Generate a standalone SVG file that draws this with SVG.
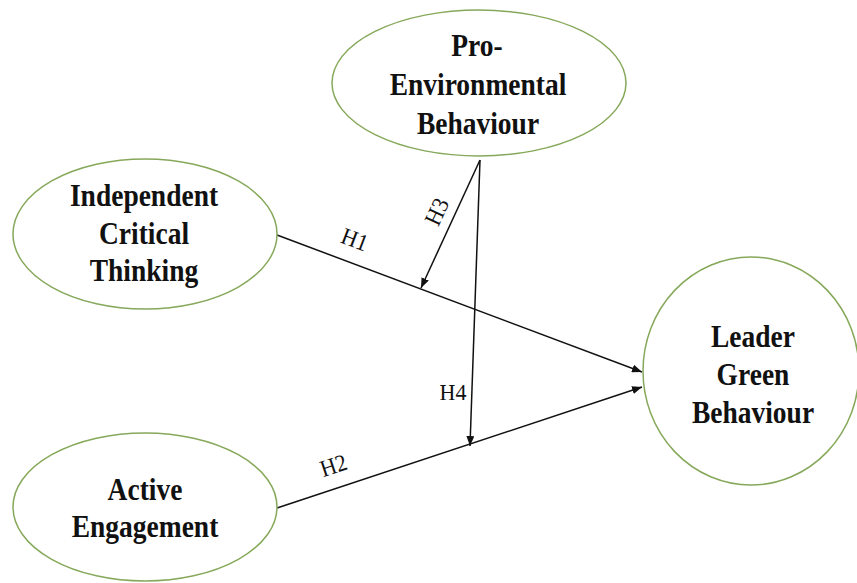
<svg xmlns="http://www.w3.org/2000/svg" width="857" height="583" viewBox="0 0 857 583">
<style>
.node ellipse{fill:#fff;stroke:#86a85a;stroke-width:1.5}
.edge line{stroke:#111;stroke-width:1.5}
</style>
<defs>
<marker id="ah" viewBox="0 0 10 8" refX="10" refY="4" markerWidth="10" markerHeight="8" markerUnits="userSpaceOnUse" orient="auto">
<path d="M0,0 L10,4 L0,8 Z" fill="#111"/>
</marker>
</defs>
<rect width="857" height="583" fill="#fff"/>
<g id="connectors" class="edge">
<line x1="277" y1="235" x2="642" y2="372" marker-end="url(#ah)"/>
<line x1="277" y1="508" x2="642" y2="387" marker-end="url(#ah)"/>
<line x1="480" y1="160" x2="421" y2="288" marker-end="url(#ah)"/>
<line x1="480" y1="160" x2="470" y2="446" marker-end="url(#ah)"/>
<g font-family="Liberation Serif" font-size="22" fill="#111" text-anchor="middle">
<text transform="translate(352,247) rotate(20.6) scale(1,1.08)">H1</text>
<text transform="translate(336,473) rotate(-18.3) scale(1,1.08)">H2</text>
<text transform="translate(444,215) rotate(-65) scale(1,1.08)">H3</text>
<text transform="translate(453,400) scale(1,1.08)">H4</text>
</g>
</g>
<g id="pro-environmental" class="node">
<ellipse cx="479" cy="83" rx="147" ry="73"/>
<g font-family="Liberation Serif" font-weight="bold" font-size="27.5" fill="#111" text-anchor="middle">
<text transform="translate(477,56) scale(1,1.12)">Pro-</text>
<text transform="translate(478,95) scale(1,1.12)">Environmental</text>
<text transform="translate(478,134) scale(1,1.12)">Behaviour</text>
</g>
</g>
<g id="independent-critical-thinking" class="node">
<ellipse cx="145" cy="234" rx="132" ry="75"/>
<g font-family="Liberation Serif" font-weight="bold" font-size="27.5" fill="#111" text-anchor="middle">
<text transform="translate(144,206) scale(1,1.12)">Independent</text>
<text transform="translate(144,244) scale(1,1.12)">Critical</text>
<text transform="translate(144,281) scale(1,1.12)">Thinking</text>
</g>
</g>
<g id="active-engagement" class="node">
<ellipse cx="145" cy="507" rx="132" ry="74"/>
<g font-family="Liberation Serif" font-weight="bold" font-size="27.5" fill="#111" text-anchor="middle">
<text transform="translate(145,500) scale(1,1.12)">Active</text>
<text transform="translate(145,537) scale(1,1.12)">Engagement</text>
</g>
</g>
<g id="leader-green-behaviour" class="node">
<ellipse cx="751" cy="371" rx="108" ry="114"/>
<g font-family="Liberation Serif" font-weight="bold" font-size="27.5" fill="#111" text-anchor="middle">
<text transform="translate(753,347) scale(1,1.12)">Leader</text>
<text transform="translate(753,385) scale(1,1.12)">Green</text>
<text transform="translate(753,423) scale(1,1.12)">Behaviour</text>
</g>
</g>
</svg>
